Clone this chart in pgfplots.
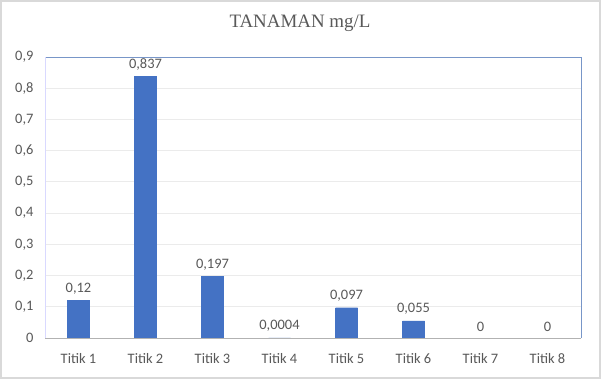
\documentclass[border=0pt]{standalone}
\usepackage{pgfplots}
\pgfplotsset{compat=1.18}
\usepackage{fontspec}
\setmainfont{Carlito}
\newfontfamily\titlefont{Liberation Serif}
\definecolor{barblue}{RGB}{68,114,196}
\definecolor{txtgray}{RGB}{89,89,89}
\definecolor{gridgray}{RGB}{235,235,235}
\definecolor{framegray}{RGB}{217,217,217}
\definecolor{topblue}{RGB}{120,150,200}
\begin{document}
\begin{tikzpicture}[x=1bp,y=1bp]
\useasboundingbox (0,0) rectangle (601,379);
\fill[white] (0,0) rectangle (601,379);
\draw[framegray,line width=2bp] (1,1) rectangle (600,378);
\node[text=txtgray,font=\titlefont\fontsize{19}{22}\selectfont] at (300,356) {TANAMAN mg/L};
\begin{axis}[
  at={(45bp,41bp)}, anchor=south west,
  scale only axis, width=536bp, height=281bp,
  xmin=-0.5, xmax=7.5, ymin=0, ymax=0.9,
  ytick={0,0.1,0.2,0.3,0.4,0.5,0.6,0.7,0.8,0.9},
  yticklabels={0,{0,1},{0,2},{0,3},{0,4},{0,5},{0,6},{0,7},{0,8},{0,9}},
  xtick={0,...,7},
  xticklabels={Titik 1,Titik 2,Titik 3,Titik 4,Titik 5,Titik 6,Titik 7,Titik 8},
  axis line style={draw=none},
  tick style={draw=none},
  ymajorgrids, grid style={gridgray, line width=0.8bp},
  every tick label/.append style={font=\fontsize{14.5}{17}\selectfont, text=txtgray},
  yticklabel style={xshift=-8bp},
  xticklabel style={yshift=-12bp},
  point meta=explicit symbolic,
  nodes near coords,
  nodes near coords style={font=\fontsize{14.5}{17}\selectfont, text=txtgray, yshift=3bp},
  clip=false,
]
\addplot[ybar, bar width=22bp, fill=barblue, draw=barblue] table[meta=lab] {
x y lab
0 0.12 0,12
1 0.837 0,837
2 0.197 0,197
3 0.0004 0,0004
4 0.097 0,097
5 0.055 0,055
6 0 0
7 0 0
};
\draw[gray!60] (rel axis cs:0,0) -- (rel axis cs:1,0);
\draw[topblue] (rel axis cs:0,1) -- (rel axis cs:1,1);
\draw[topblue] (rel axis cs:1,0) -- (rel axis cs:1,1);
\draw[blue!15] (rel axis cs:0,0) -- (rel axis cs:0,1);
\end{axis}
\end{tikzpicture}
\end{document}
